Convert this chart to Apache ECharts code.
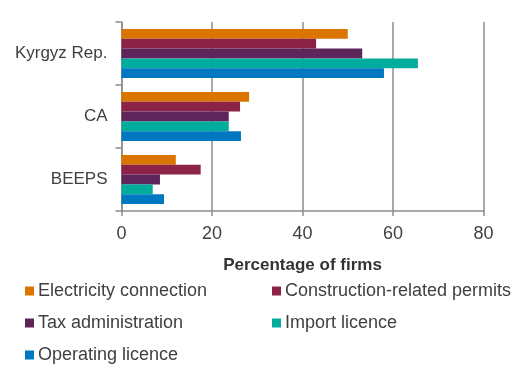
<!DOCTYPE html>
<html><head><meta charset="utf-8">
<script src="https://cdn.jsdelivr.net/npm/echarts@6/dist/echarts.min.js"></script>
<style>html,body{margin:0;padding:0;background:#fff}#c{width:518px;height:383px}</style>
</head><body><div id="c"></div>
<script>
const categories = ['Kyrgyz Rep.', 'CA', 'BEEPS'];
const seriesNames = ['Electricity connection', 'Construction-related permits', 'Tax administration', 'Import licence', 'Operating licence'];
const electricity = [50.0, 28.2, 12.0];
const construction = [43.0, 26.2, 17.5];
const taxAdmin = [53.2, 23.7, 8.5];
const importLic = [65.5, 23.7, 6.9];
const operating = [58.0, 26.4, 9.4];
const xTicks = [0, 20, 40, 60, 80];
const colors = ['#DA7500', '#8C2347', '#5E255A', '#00AC9C', '#0077C1'];
const values = [electricity, construction, taxAdmin, importLic, operating];

const font = 'Liberation Sans';
const txt = '#404040';
const legendPos = [[20, 277], [267, 277], [20, 309], [267, 309], [20, 341]];

const chart = echarts.init(document.getElementById('c'), null, {renderer: 'canvas'});
chart.setOption({
  animation: false,
  textStyle: {fontFamily: font},
  grid: {left: 121.5, right: 34.5, top: 22, bottom: 172},
  xAxis: {
    type: 'value', min: xTicks[0], max: xTicks[xTicks.length - 1], interval: 20,
    name: 'Percentage of firms', nameLocation: 'middle', nameGap: 46,
    nameTextStyle: {fontFamily: font, fontWeight: 'bold', fontSize: 17, color: '#333'},
    axisLine: {show: true, lineStyle: {color: '#8c8c8c', width: 1.5}},
    axisTick: {show: true, length: 5, lineStyle: {color: '#8c8c8c', width: 1.5}},
    splitLine: {show: true, lineStyle: {color: '#8c8c8c', width: 1.5}},
    axisLabel: {fontSize: 18, color: txt, margin: 14}
  },
  yAxis: {
    type: 'category', data: categories, inverse: true,
    axisLine: {show: true, lineStyle: {color: '#8c8c8c', width: 1.5}},
    axisTick: {show: true, length: 6, lineStyle: {color: '#8c8c8c', width: 1.5}},
    axisLabel: {fontSize: 17, color: txt, margin: 14}
  },
  legend: seriesNames.map((n, i) => ({
    data: [n], left: legendPos[i][0], top: legendPos[i][1],
    itemWidth: 9, itemHeight: 9, icon: 'rect', itemGap: 0,
    textStyle: {fontSize: 18, color: txt, fontFamily: font, padding: [0, 0, 0, -1]}
  })),
  series: seriesNames.map((n, i) => ({
    name: n, type: 'bar', data: values[i],
    itemStyle: {color: colors[i]},
    barGap: '0%', barCategoryGap: '22%'
  }))
});
</script></body></html>
